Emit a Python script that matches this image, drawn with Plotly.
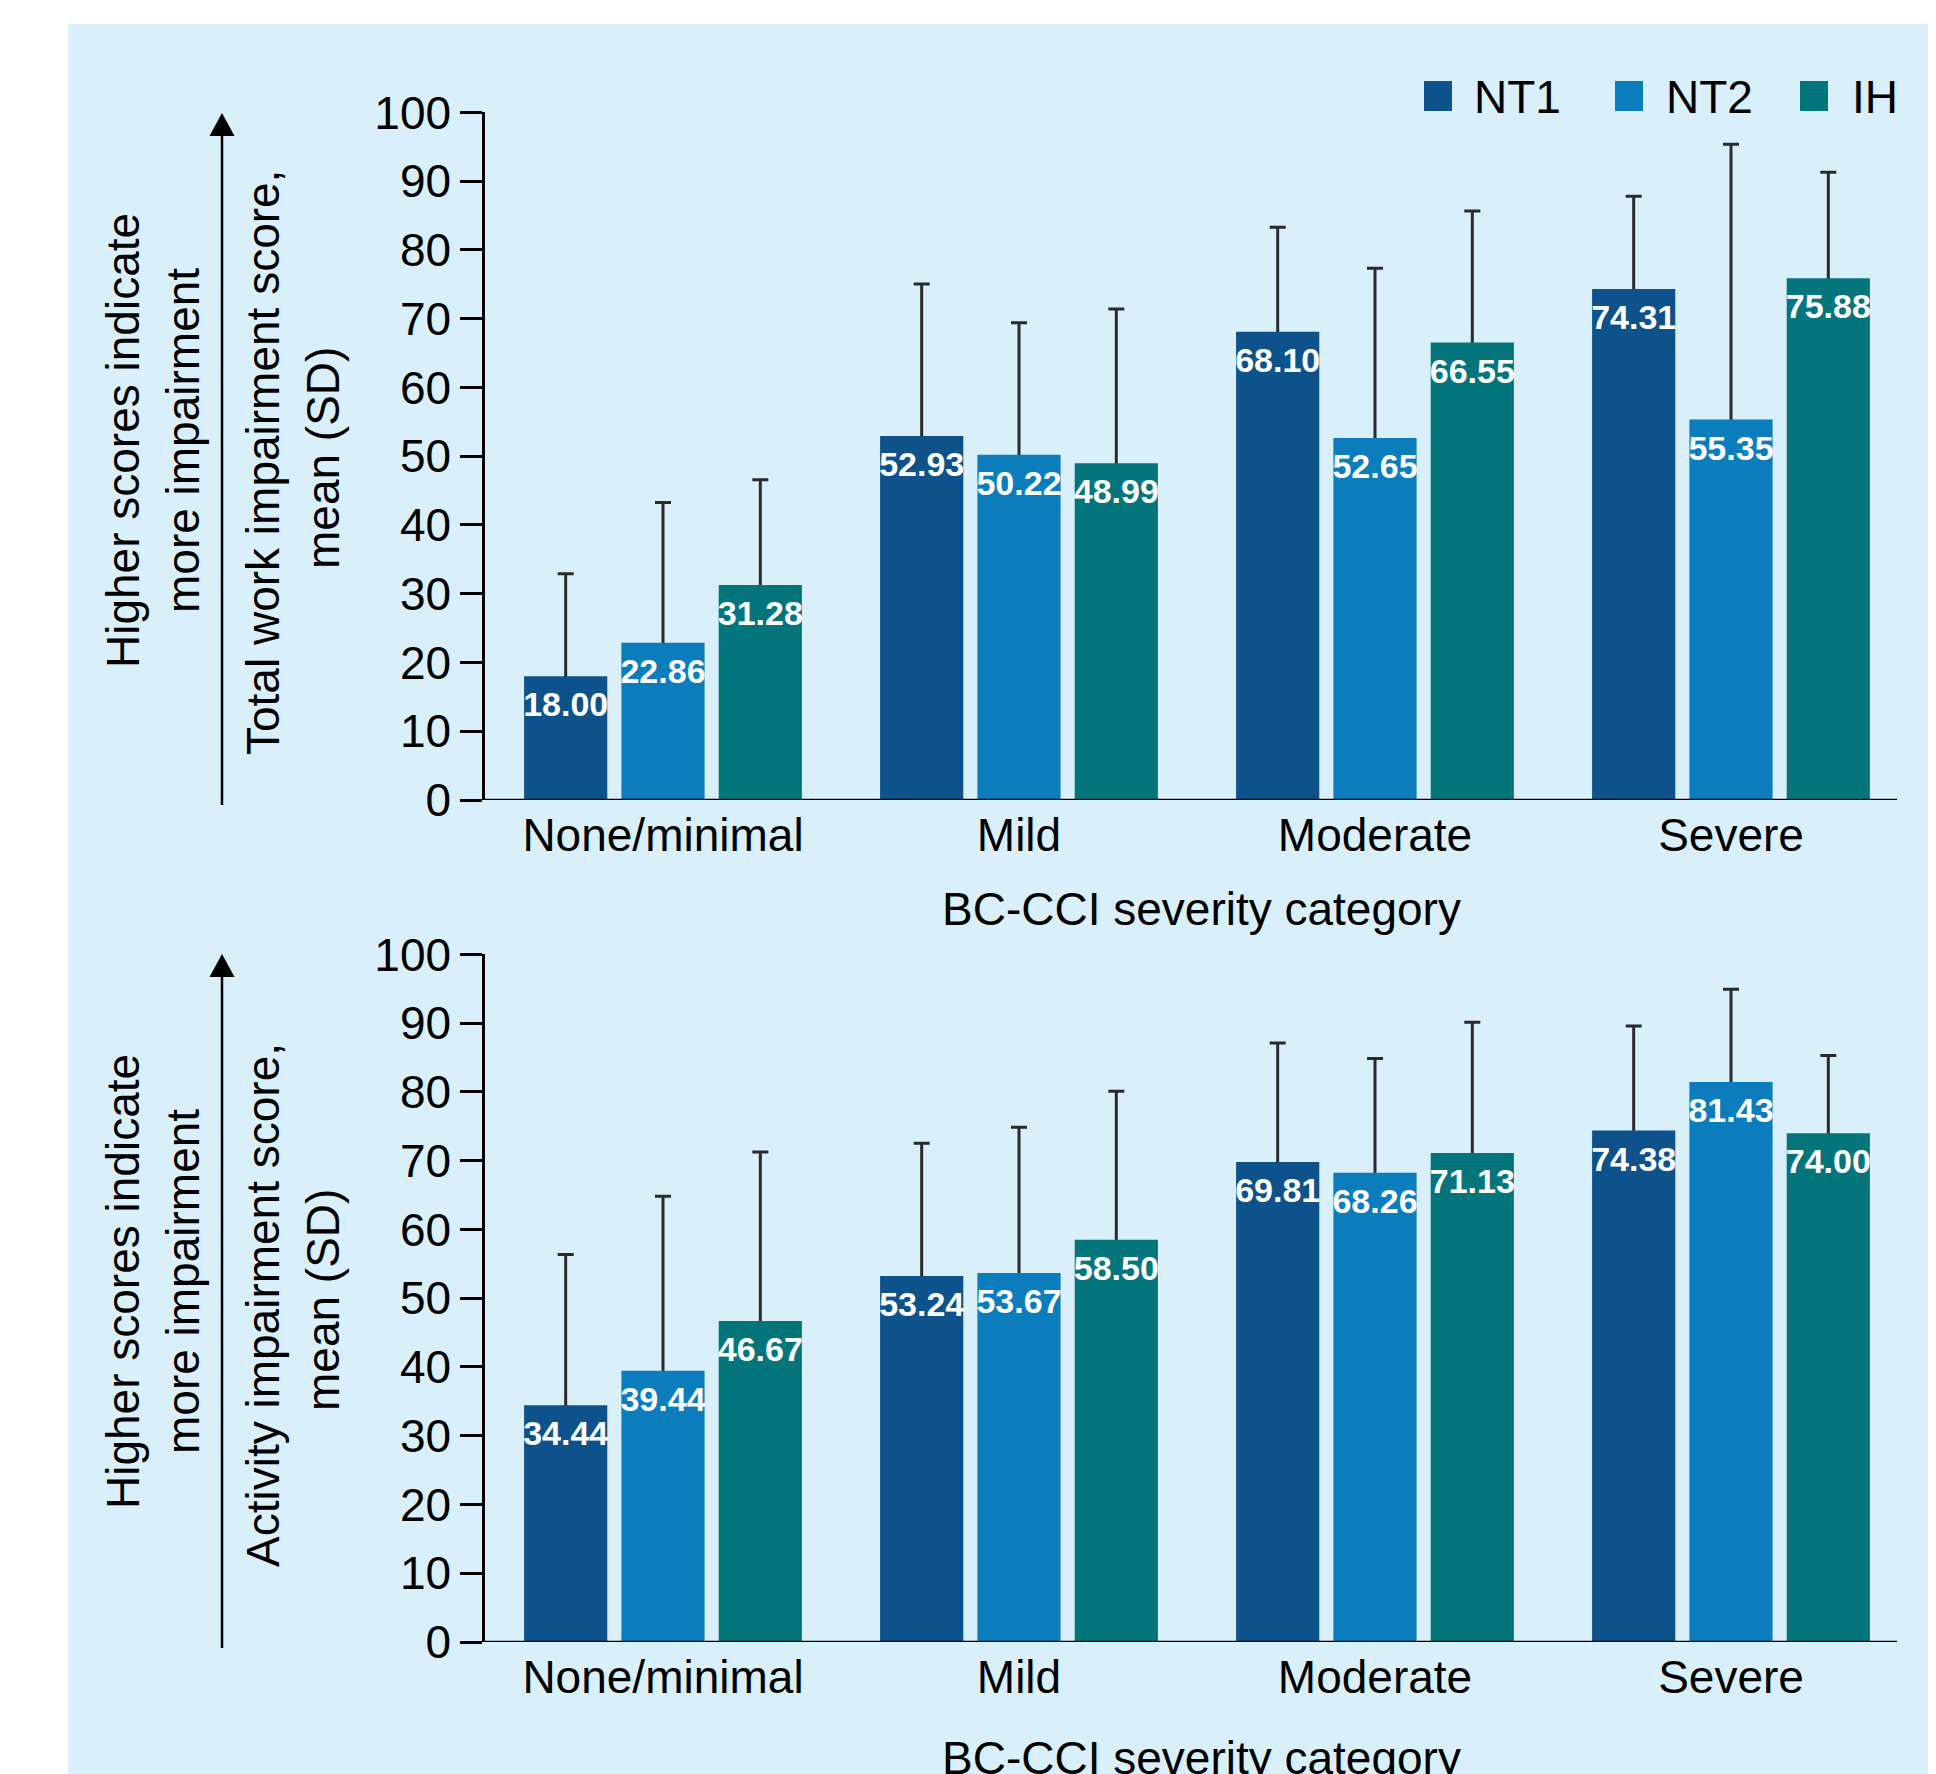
import plotly.graph_objects as go

# ---------------- data ----------------
categories = ["None/minimal", "Mild", "Moderate", "Severe"]
groups = ["NT1", "NT2", "IH"]

work_nt1 = [18.00, 52.93, 68.10, 74.31]
work_nt2 = [22.86, 50.22, 52.65, 55.35]
work_ih = [31.28, 48.99, 66.55, 75.88]
work_nt1_sd = [14.9, 22.1, 15.2, 13.5]
work_nt2_sd = [20.4, 19.2, 24.7, 40.0]
work_ih_sd = [15.3, 22.4, 19.1, 15.4]

act_nt1 = [34.44, 53.24, 69.81, 74.38]
act_nt2 = [39.44, 53.67, 68.26, 81.43]
act_ih = [46.67, 58.50, 71.13, 74.00]
act_nt1_sd = [21.9, 19.3, 17.3, 15.2]
act_nt2_sd = [25.4, 21.2, 16.6, 13.5]
act_ih_sd = [24.6, 21.6, 19.0, 11.3]

y_ticks = [0, 10, 20, 30, 40, 50, 60, 70, 80, 90, 100]
colors = ["#0e528b", "#0b7dbd", "#05757c"]

# ---------------- geometry helpers (screen px -> paper, page has 8px body margin) ----------------
W, H = 1936, 1774
OFF = 8
def X(px):
    return (px - OFF) / W
def Y(py):
    return 1 - (py - OFF) / H

FONT = "Liberation Sans, Arial, Helvetica, sans-serif"
FS = 46
BG = "#d9eff9"
GAP = 0.18

fig = go.Figure()

panels = [
    ("x", "y", [work_nt1, work_nt2, work_ih], [work_nt1_sd, work_nt2_sd, work_ih_sd]),
    ("x2", "y2", [act_nt1, act_nt2, act_ih], [act_nt1_sd, act_nt2_sd, act_ih_sd]),
]
for xa, ya, vals, sds in panels:
    # transparent carriers for the upper SD whiskers (drawn first, hidden inside bars)
    for g, v, sd in zip(groups, vals, sds):
        top = [a + b for a, b in zip(v, sd)]
        fig.add_trace(go.Bar(
            x=categories, y=top, xaxis=xa, yaxis=ya, offsetgroup=g,
            marker=dict(color="rgba(0,0,0,0)", line=dict(width=0)),
            error_y=dict(type="data", array=[0] * len(top), arrayminus=top,
                         symmetric=False, color="#2a2a2a", thickness=3, width=8),
            showlegend=False, hoverinfo="skip",
        ))
    for g, v, c in zip(groups, vals, colors):
        fig.add_trace(go.Bar(
            x=categories, y=v, name=g, xaxis=xa, yaxis=ya, offsetgroup=g,
            marker=dict(color=c, line=dict(width=0)),
            showlegend=False, hoverinfo="skip",
        ))
    # value labels, grouped the same way as the bars
    for g, v in zip(groups, vals):
        fig.add_trace(go.Scatter(
            x=categories, y=v, xaxis=xa, yaxis=ya, offsetgroup=g, orientation="v",
            mode="markers+text", text=[f"{t:.2f}" for t in v],
            textposition="bottom center",
            marker=dict(size=22, color="rgba(0,0,0,0)"),
            textfont=dict(family=FONT, size=34, color="white", weight="bold"),
            cliponaxis=False, showlegend=False, hoverinfo="skip",
        ))

x_dom = [X(485), X(1909)]
axis_common = dict(showgrid=False, zeroline=False, automargin=False)
yaxis_common = dict(range=[0, 100], tickvals=y_ticks, showline=True, linecolor="black",
                    linewidth=2.5, ticks="outside", ticklen=22, tickwidth=2.5,
                    tickcolor="black", tickfont=dict(size=FS, color="black"), **axis_common)
xaxis_common = dict(showline=False, ticks="", ticklabelstandoff=4,
                    tickfont=dict(size=FS, color="black"), range=[-0.5, 3.5], **axis_common)
fig.update_layout(
    template="none",
    width=W, height=H, autosize=False,
    margin=dict(l=0, r=0, t=0, b=0, pad=0),
    paper_bgcolor="white", plot_bgcolor="rgba(0,0,0,0)",
    barmode="group", bargap=GAP, bargroupgap=0.145,
    scattermode="group", scattergap=GAP,
    showlegend=False,
    font=dict(family=FONT, size=FS, color="black"),
    xaxis=dict(domain=x_dom, anchor="y", **xaxis_common),
    xaxis2=dict(domain=x_dom, anchor="y2", **xaxis_common),
    yaxis=dict(domain=[Y(800), Y(112.4)], anchor="x", **yaxis_common),
    yaxis2=dict(domain=[Y(1642), Y(954.4)], anchor="x2", **yaxis_common),
)

shapes = []
# light blue panel background
shapes.append(dict(type="rect", xref="paper", yref="paper", x0=X(68), x1=1, y0=0, y1=Y(24),
                   fillcolor=BG, line=dict(width=0), layer="below"))
# x axis baselines
for ya in ["y", "y2"]:
    shapes.append(dict(type="line", xref="paper", yref=ya, x0=X(483), x1=X(1897), y0=0, y1=0,
                       line=dict(color="black", width=2.5), layer="above"))
# vertical arrows
for tip, bottom in [(113, 805), (954, 1648)]:
    shapes.append(dict(type="line", xref="paper", yref="paper", x0=X(222), x1=X(222),
                       y0=Y(bottom), y1=Y(tip + 18), line=dict(color="black", width=2.5)))
    shapes.append(dict(type="path", xref="paper", yref="paper",
                       path=f"M {X(222)},{Y(tip)} L {X(209.5)},{Y(tip + 23)} L {X(234.5)},{Y(tip + 23)} Z",
                       fillcolor="black", line=dict(width=0)))
# legend squares
for x0, c in zip([1424, 1615, 1800], colors):
    shapes.append(dict(type="rect", xref="paper", yref="paper", x0=X(x0), x1=X(x0 + 28),
                       y0=Y(111), y1=Y(81), fillcolor=c, line=dict(width=0)))
fig.update_layout(shapes=shapes)

ann = []
def txt(s, x, y, angle=0, xanchor="center", yanchor="middle", size=FS):
    ann.append(dict(text=s, x=X(x), y=Y(y), xref="paper", yref="paper", showarrow=False,
                    textangle=angle, xanchor=xanchor, yanchor=yanchor,
                    font=dict(family=FONT, size=size, color="black")))

# legend labels
for x0, g in zip([1472, 1664, 1850], groups):
    txt(g, x0, 97, xanchor="left")

# y titles
txt("Higher scores indicate", 123, 441, angle=-90)
txt("more impairment", 183, 441, angle=-90)
txt("Total work impairment score,", 263, 462, angle=-90)
txt("mean (SD)", 323, 458, angle=-90)

txt("Higher scores indicate", 123, 1282, angle=-90)
txt("more impairment", 183, 1282, angle=-90)
txt("Activity impairment score,", 263, 1305, angle=-90)
txt("mean (SD)", 323, 1300, angle=-90)

# x titles
txt("BC-CCI severity category", 1201, 909)
txt("BC-CCI severity category", 1201, 1758)

fig.update_layout(annotations=ann)

fig.write_html("out.html")
